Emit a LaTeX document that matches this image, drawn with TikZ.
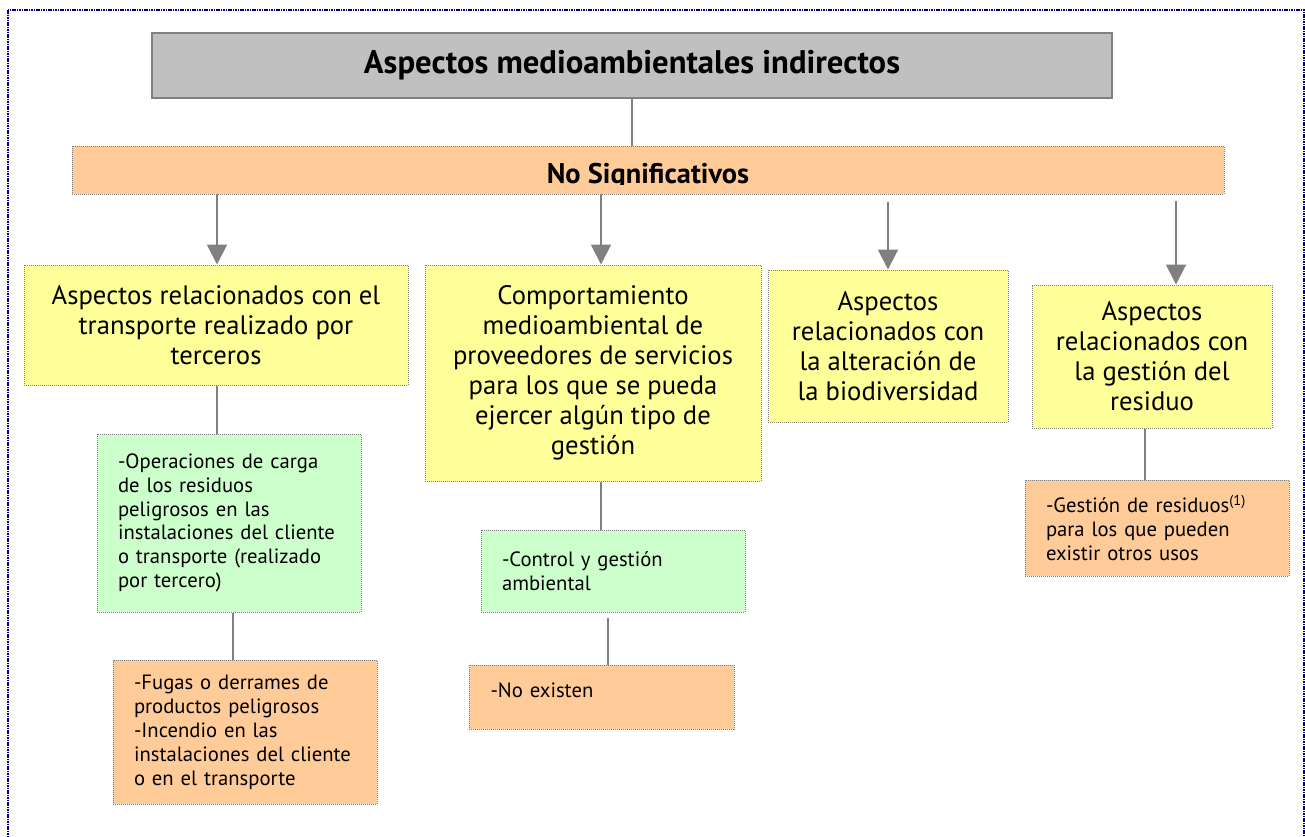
\documentclass[tikz,border=0pt]{standalone}
\usepackage{fontspec}
\setmainfont{PT Sans}
\usetikzlibrary{arrows.meta}
\definecolor{boxgray}{RGB}{192,192,192}
\definecolor{edgegray}{RGB}{128,128,128}
\definecolor{peach}{RGB}{255,204,153}
\definecolor{yel}{RGB}{255,255,153}
\definecolor{grn}{RGB}{204,255,204}
\definecolor{navyb}{RGB}{0,0,128}
\tikzset{
  conn/.style={draw=edgegray, line width=1.5pt},
  arr/.style={conn, -{Triangle[width=15pt,length=15pt]}},
  dotbox/.style={draw=edgegray, line width=0.75pt, dash pattern=on 0.75pt off 0.75pt, inner sep=0pt, rectangle},
  ybox/.style={dotbox, fill=yel, align=center, font=\fontsize{20}{22.5}\selectfont},
  lbox/.style={dotbox, align=left, text width=166.5pt, inner xsep=15.75pt, font=\fontsize{15.5}{17.8}\selectfont},
  gbox/.style={lbox, fill=grn},
  obox/.style={lbox, fill=peach},
}
\begin{document}
\begin{tikzpicture}[x=0.75pt,y=-0.75pt]
\useasboundingbox (0,0) rectangle (1305,836);
\draw[navyb, line width=1.8pt, dash pattern=on 1.2pt off 0.6pt] (8,10) rectangle (1304,860);

% title
\node[draw=edgegray, line width=1.5pt, fill=boxgray, minimum width=720pt, minimum height=48.75pt, inner sep=0pt,
      font=\bfseries\fontsize{24.5}{28}\selectfont] (title) at (632,65.5) {Aspectos medioambientales indirectos};

% No significativos
\node[dotbox, fill=peach, minimum width=864pt, minimum height=36pt] (ns) at (648,170) {};
\begin{scope}
  \clip (72,146) rectangle (1224,184);
  \node[anchor=base, inner sep=0pt, font=\bfseries\fontsize{21.3}{25}\selectfont] (nstext) at (648,183) {No Significativos};
\end{scope}

% yellow boxes
\node[ybox, minimum width=288pt, minimum height=90pt] (y1) at (216,325)
  {Aspectos relacionados con el\\transporte realizado por\\terceros};
\node[ybox, minimum width=252pt, minimum height=162pt] (y2) at (593,373)
  {Comportamiento\\medioambiental de\\proveedores de servicios\\para los que se pueda\\ejercer algún tipo de\\gestión};
\node[ybox, minimum width=180pt, minimum height=114pt] (y3) at (888,346)
  {Aspectos\\relacionados con\\la alteración de\\la biodiversidad};
\node[ybox, minimum width=180pt, minimum height=107.25pt] (y4) at (1152,356.5)
  {Aspectos\\relacionados con\\la gestión del\\residuo};

% green / orange boxes
\node[gbox, minimum width=198pt, minimum height=133.5pt] (g1) at (229,523)
  {-Operaciones de carga\\de los residuos\\peligrosos en las\\instalaciones del cliente\\o transporte (realizado\\por tercero)};
\node[obox, minimum width=198pt, minimum height=108pt, font=\fontsize{15.5}{18}\selectfont] (o1) at (245,732)
  {-Fugas o derrames de\\productos peligrosos\\-Incendio en las\\instalaciones del cliente\\o en el transporte};
\node[gbox, minimum width=198pt, minimum height=61.5pt] (g2) at (613,571)
  {-Control y gestión\\ambiental};
\node[obox, minimum width=198.75pt, minimum height=48pt, text height=9pt, text depth=9pt] (o2) at (601.5,697)
  {-No existen};
\node[obox, minimum width=198pt, minimum height=72pt] (o3) at (1157,528)
  {-Gestión de residuos\textsuperscript{(1)}\\para los que pueden\\existir otros usos};

% connectors
\draw[conn] (title.south) -- (title.south |- ns.north);
\coordinate (s1) at (217,194);
\coordinate (s2) at (601,194);
\coordinate (s3) at (888,202);
\coordinate (s4) at (1176,201);
\draw[arr] (s1) -- (s1 |- y1.north);
\draw[arr] (s2) -- (s2 |- y2.north);
\draw[arr] (s3) -- (s3 |- y3.north);
\draw[arr] (s4) -- (s4 |- y4.north);

\draw[conn] ([xshift=0.75pt]y1.south) -- ([xshift=0.75pt]y1.south |- g1.north);
\draw[conn] ([xshift=3pt]g1.south) -- ([xshift=3pt]g1.south |- o1.north);
\draw[conn] ([xshift=6pt]y2.south) -- ([xshift=6pt]y2.south |- g2.north);
\draw[conn] ([xshift=-3.75pt,yshift=-3.75pt]g2.south) -- ([xshift=-3.75pt]g2.south |- o2.north);
\draw[conn] ([xshift=-5.25pt]y4.south) -- ([xshift=-5.25pt]y4.south |- o3.north);
\end{tikzpicture}
\end{document}
